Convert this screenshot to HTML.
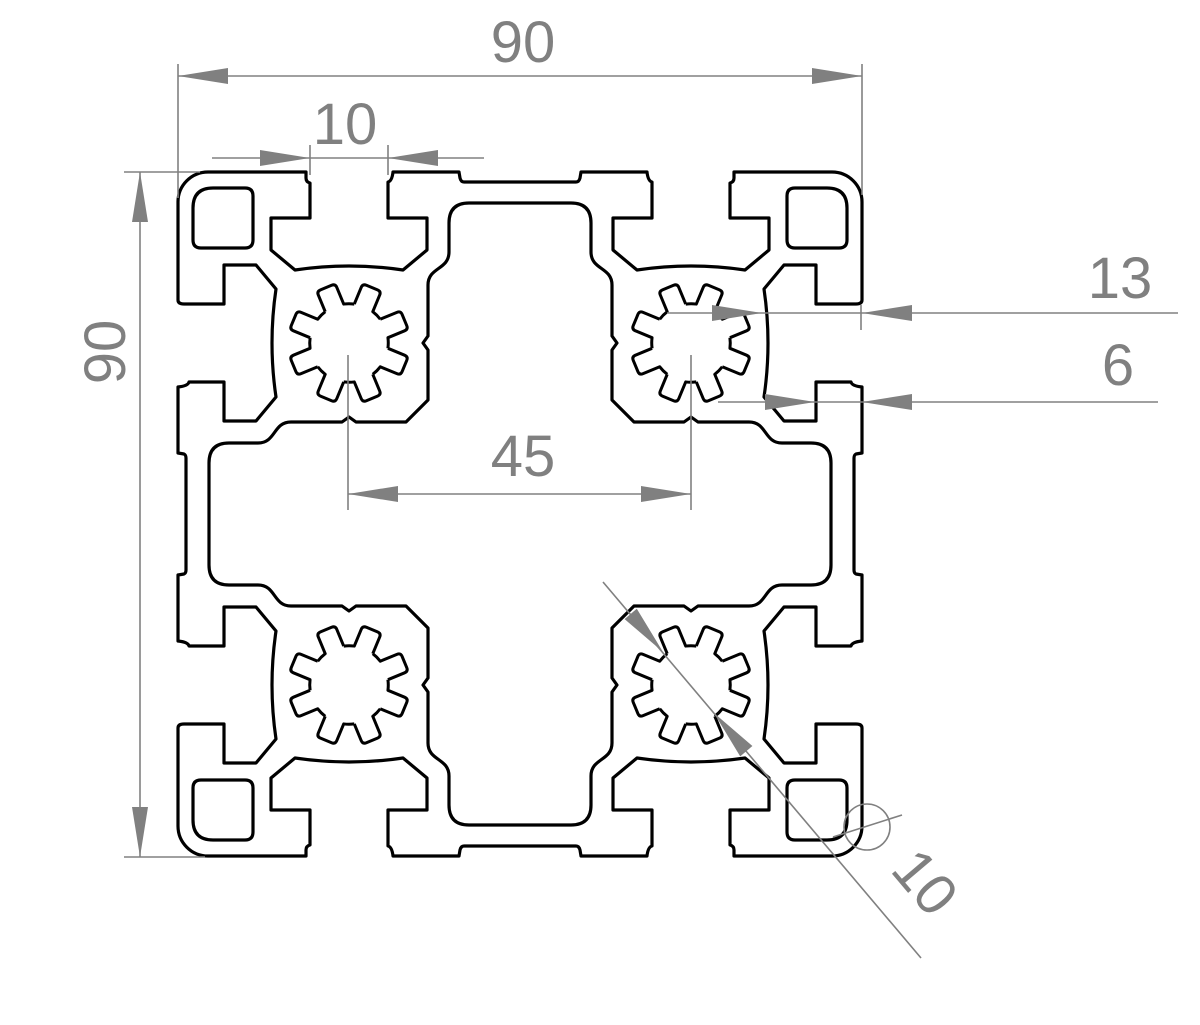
<!DOCTYPE html>
<html><head><meta charset="utf-8"><style>
html,body{margin:0;padding:0;background:#fff;}
svg{display:block;}
text{font-family:"Liberation Sans",sans-serif;fill:#808080;font-size:58px;}
</style></head><body>
<svg width="1200" height="1025" viewBox="0 0 1200 1025" xmlns="http://www.w3.org/2000/svg">
<defs>
  <path id="tooth" d="M -10 -38 L -10 -56 Q -10 -60 -6 -60 L 6 -60 Q 10 -60 10 -56 L 10 -38 A 39.3 39.3 0 0 1 19.8 -33.9" fill="none" stroke="#000" stroke-width="3"/>
  <g id="star">
    <use href="#tooth" transform="rotate(22.5)"/>
    <use href="#tooth" transform="rotate(67.5)"/>
    <use href="#tooth" transform="rotate(112.5)"/>
    <use href="#tooth" transform="rotate(157.5)"/>
    <use href="#tooth" transform="rotate(202.5)"/>
    <use href="#tooth" transform="rotate(247.5)"/>
    <use href="#tooth" transform="rotate(292.5)"/>
    <use href="#tooth" transform="rotate(337.5)"/>
  </g>
  <g id="quad" fill="none" stroke="#000" stroke-width="3.2" stroke-linejoin="round">
    <path d="M 0 -332 L -56 -332 Q -59 -332 -60 -336 L -61 -342 L -127 -342 Q -128 -333 -132 -332 L -132 -296 L -93 -296 L -93 -264 L -117 -244 Q -171 -252 -225 -244 L -249 -264 L -249 -296 L -210 -296 L -210 -331 Q -214 -332 -214 -336 L -214 -342 L -312 -342 A 30 30 0 0 0 -342 -312 L -342 -214 Q -342 -210 -336 -210 L -296 -210 L -296 -249 L -264 -249 L -244 -225 Q -252 -171 -244 -117 L -264 -93 L -296 -93 L -296 -132 L -331 -132 Q -332 -128 -342 -127 L -342 -61 L -336 -60 Q -334 -59 -334 -56 L -334 0"/>
    <path d="M 0 -311 L -51 -311 Q -71 -311 -71 -291 L -71 -262 C -71 -244 -92 -247 -92 -229 L -92 -178 L -97 -171 L -92 -164 L -92 -114 L -114 -92 L -164 -92 L -171 -97 L -178 -92 L -229 -92 C -247 -92 -244 -71 -262 -71 L -291 -71 Q -311 -71 -311 -51 L -311 0"/>
    <path d="M -307 -326 L -275 -326 Q -267 -326 -267 -318 L -267 -274 Q -267 -266 -275 -266 L -319 -266 Q -327 -266 -327 -274 L -327 -306 Q -327 -326 -307 -326 Z"/>
    <use href="#star" transform="translate(-171,-171)"/>
  </g>
</defs>
<g transform="translate(520,514)">
  <use href="#quad"/>
  <use href="#quad" transform="scale(-1,1)"/>
  <use href="#quad" transform="scale(1,-1)"/>
  <use href="#quad" transform="scale(-1,-1)"/>
</g>

<g stroke="#808080" stroke-width="1.6" fill="none">
  <line x1="178" y1="76" x2="862" y2="76"/>
  <line x1="178" y1="64" x2="178" y2="198"/>
  <line x1="862" y1="64" x2="862" y2="195"/>
  <line x1="212" y1="158" x2="484" y2="158"/>
  <line x1="310" y1="145" x2="310" y2="175"/>
  <line x1="388" y1="145" x2="388" y2="175"/>
  <line x1="140" y1="172" x2="140" y2="857"/>
  <line x1="124" y1="172" x2="200" y2="172"/>
  <line x1="124" y1="857" x2="205" y2="857"/>
  <line x1="667" y1="313" x2="1178" y2="313"/>
  <line x1="861" y1="305" x2="861" y2="330"/>
  <line x1="718" y1="402" x2="1158" y2="402"/>
  <line x1="348" y1="494" x2="691" y2="494"/>
  <line x1="348" y1="355" x2="348" y2="510"/>
  <line x1="691" y1="355" x2="691" y2="510"/>
  <line x1="603" y1="582" x2="921" y2="958"/>
  <circle cx="867" cy="827" r="23"/>
  <line x1="833" y1="837" x2="902" y2="815"/>
</g>

<g fill="#808080">
  <polygon points="178,76 228,68 228,84"/>
  <polygon points="862,76 812,68 812,84"/>
  <polygon points="310,158 260,150 260,166"/>
  <polygon points="388,158 438,150 438,166"/>
  <polygon points="140,172 132,222 148,222"/>
  <polygon points="140,857 132,807 148,807"/>
  <polygon points="762,313 712,305 712,321"/>
  <polygon points="862,313 912,305 912,321"/>
  <polygon points="815,402 765,394 765,410"/>
  <polygon points="862,402 912,394 912,410"/>
  <polygon points="348,494 398,486 398,502"/>
  <polygon points="691,494 641,486 641,502"/>
  <polygon points="663,652 636.8,608.7 624.6,619.1"/>
  <polygon points="714,713 752.4,746 740.2,756.4"/>
</g>

<text x="523" y="62" text-anchor="middle">90</text>
<text x="345" y="144" text-anchor="middle">10</text>
<text transform="translate(125,352) rotate(-90)" text-anchor="middle">90</text>
<text x="1120" y="298" text-anchor="middle">13</text>
<text x="1118" y="385" text-anchor="middle">6</text>
<text x="523" y="476" text-anchor="middle">45</text>
<text transform="translate(910,895) rotate(49.8)" text-anchor="middle">10</text>
</svg>
</body></html>
